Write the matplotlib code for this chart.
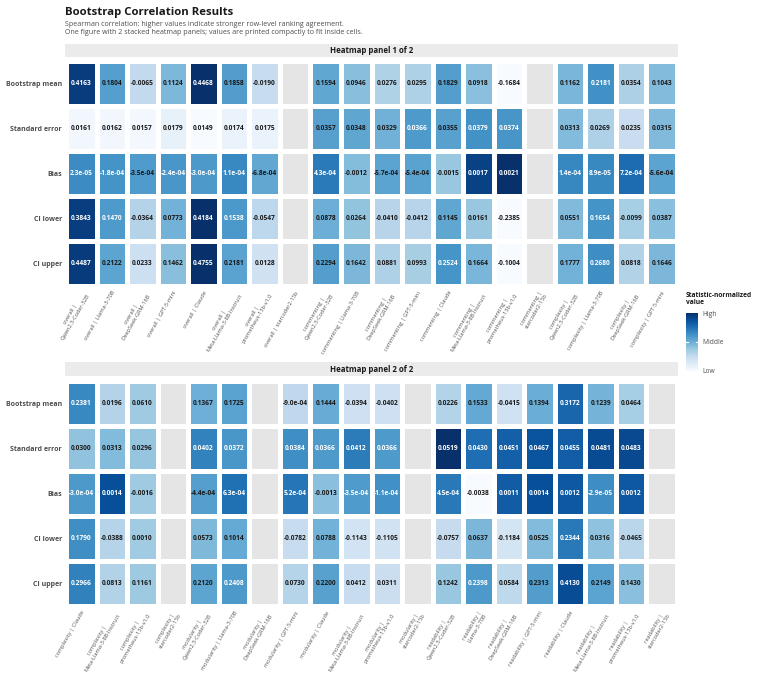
import numpy as np
import matplotlib
matplotlib.use("Agg")
import matplotlib.pyplot as plt
from matplotlib import colors, cm

plt.rcParams['font.family'] = ['Open Sans', 'DejaVu Sans']

nan = np.nan

stats = ["Bootstrap mean", "Standard error", "Bias", "CI lower", "CI upper"]
metrics = ["overall", "commenting", "complexity", "modularity", "readability"]
models = ["Qwen2.5-Coder-32B", "Llama-3-70B", "DeepSeek-GRM-16B", "GPT-5-mini",
          "Claude", "Meta-Llama-3-8B-Instruct", "prometheus-13b-v1.0", "starcoder2-15b"]

# values per statistic, 40 columns (metric x model), panel 1 = first 20
boot_mean = [0.4163, 0.1804, -0.0065, 0.1124, 0.4468, 0.1858, -0.0190, nan,
             0.1594, 0.0946, 0.0276, 0.0295, 0.1829, 0.0918, -0.1684, nan,
             0.1162, 0.2181, 0.0354, 0.1043,
             0.2381, 0.0196, 0.0610, nan,
             0.1367, 0.1725, nan, -9.0e-04, 0.1444, -0.0394, -0.0402, nan,
             0.0226, 0.1533, -0.0415, 0.1394, 0.3172, 0.1239, 0.0464, nan]
std_err = [0.0161, 0.0162, 0.0157, 0.0179, 0.0149, 0.0174, 0.0175, nan,
           0.0357, 0.0348, 0.0329, 0.0366, 0.0355, 0.0379, 0.0374, nan,
           0.0313, 0.0269, 0.0235, 0.0315,
           0.0300, 0.0313, 0.0296, nan,
           0.0402, 0.0372, nan, 0.0384, 0.0366, 0.0412, 0.0366, nan,
           0.0519, 0.0430, 0.0451, 0.0467, 0.0455, 0.0481, 0.0483, nan]
bias = [2.3e-05, -1.8e-04, -3.54e-04, -2.4e-04, -3.0e-04, 1.1e-04, -6.8e-04, nan,
        4.3e-04, -0.0012, -5.7e-04, -5.4e-04, -0.0015, 0.0017, 0.0021, nan,
        1.4e-04, 8.9e-05, 7.2e-04, -5.6e-04,
        -3.0e-04, 0.0014, -0.0016, nan,
        -4.4e-04, 6.3e-04, nan, 5.2e-04, -0.0013, -3.452e-04, -1.1e-04, nan,
        4.5e-04, -0.0038, 0.0011, 0.0014, 0.0012, -2.9e-05, 0.0012, nan]
ci_lower = [0.3843, 0.1470, -0.0364, 0.0773, 0.4184, 0.1538, -0.0547, nan,
            0.0878, 0.0264, -0.0410, -0.0412, 0.1145, 0.0161, -0.2385, nan,
            0.0551, 0.1654, -0.0099, 0.0387,
            0.1790, -0.0388, 0.0010, nan,
            0.0573, 0.1014, nan, -0.0782, 0.0788, -0.1143, -0.1105, nan,
            -0.0757, 0.0637, -0.1184, 0.0525, 0.2344, 0.0316, -0.0465, nan]
ci_upper = [0.4487, 0.2122, 0.0233, 0.1462, 0.4755, 0.2181, 0.0128, nan,
            0.2294, 0.1642, 0.0881, 0.0993, 0.2524, 0.1664, -0.1004, nan,
            0.1777, 0.2680, 0.0818, 0.1646,
            0.2966, 0.0813, 0.1161, nan,
            0.2120, 0.2408, nan, 0.0730, 0.2200, 0.0412, 0.0311, nan,
            0.1242, 0.2398, 0.0584, 0.2313, 0.4130, 0.2149, 0.1430, nan]

data = np.array([boot_mean, std_err, bias, ci_lower, ci_upper])
# normalize each statistic across all columns
mn = np.nanmin(data, axis=1, keepdims=True)
mx = np.nanmax(data, axis=1, keepdims=True)
norm = (data - mn) / (mx - mn)

labels = []
for m in metrics:
    for mod in models:
        s = m + " | " + mod
        if len(s) > 24:
            s = m + " |\n" + mod
        labels.append(s)

def fmt(v):
    if abs(v) < 0.001:
        return "%.1e" % v
    return "%.4f" % v

W, H = 757, 675
fig = plt.figure(figsize=(W / 100, H / 100), dpi=100)

def fx(px):
    return px / W

def fy(py):
    return 1 - py / H

fig.text(fx(65), fy(12), "Bootstrap Correlation Results", fontsize=8.2,
         fontweight='bold', va='center', ha='left', color='#1a1a1a')
fig.text(fx(65), fy(24.5), "Spearman correlation: higher values indicate stronger row-level ranking agreement.",
         fontsize=5.1, va='center', ha='left', color='#4d4d4d')
fig.text(fx(65), fy(32.5), "One figure with 2 stacked heatmap panels; values are printed compactly to fit inside cells.",
         fontsize=5.1, va='center', ha='left', color='#4d4d4d')

cmap = plt.get_cmap('Blues').copy()
cmap.set_bad('#e5e5e5')

panels = [(44, 57, 61, 286), (362, 376, 381, 606)]
for p, (s_top, s_bot, h_top, h_bot) in enumerate(panels):
    cols = slice(p * 20, (p + 1) * 20)
    sub = norm[:, cols]
    raw = data[:, cols]

    sax = fig.add_axes([fx(65), fy(s_bot), fx(678) - fx(65), fy(s_top) - fy(s_bot)])
    sax.set_facecolor('#ebebeb')
    sax.set_xticks([])
    sax.set_yticks([])
    for sp in sax.spines.values():
        sp.set_visible(False)
    sax.text(0.5, 0.5, "Heatmap panel %d of 2" % (p + 1), ha='center', va='center',
             fontsize=5.7, fontweight='bold', color='#1a1a1a', transform=sax.transAxes)

    ax = fig.add_axes([fx(66), fy(h_bot), fx(677) - fx(66), fy(h_top) - fy(h_bot)])
    ax.pcolormesh(np.ma.masked_invalid(sub), cmap=cmap, vmin=0, vmax=1,
                  edgecolors='white', linewidth=2.2)
    ax.set_xlim(0, 20)
    ax.set_ylim(5, 0)
    for sp in ax.spines.values():
        sp.set_visible(False)
    for i in range(5):
        for j in range(20):
            v = raw[i, j]
            if np.isnan(v):
                continue
            c = 'white' if sub[i, j] > 0.5855 else '#1a1a1a'
            ax.text(j + 0.5, i + 0.5, fmt(v), ha='center', va='center',
                    fontsize=4.8, fontweight='bold', color=c)
    ax.set_yticks(np.arange(5) + 0.5)
    ax.set_yticklabels(stats, fontsize=5.0, fontweight='bold', color='#4d4d4d')
    ax.set_xticks(np.arange(20) + 0.5)
    ax.set_xticklabels(labels[cols], rotation=60, ha='right', rotation_mode='anchor',
                       fontsize=4.1, color='#555555', multialignment='center')
    ax.tick_params(length=0, pad=3)

# legend colorbar
cax = fig.add_axes([fx(686), fy(371), fx(698) - fx(686), fy(313) - fy(371)])
cb = fig.colorbar(cm.ScalarMappable(norm=colors.Normalize(0, 1), cmap='Blues'), cax=cax)
cb.outline.set_visible(False)
cb.set_ticks([0, 0.5, 1])
cb.set_ticklabels(["Low", "Middle", "High"])
cax.tick_params(length=0, labelsize=4.8, labelcolor='#4d4d4d', pad=3)
cax.axhline(0.5, xmin=0, xmax=0.2, color='white', lw=0.8)
cax.axhline(0.5, xmin=0.8, xmax=1, color='white', lw=0.8)
fig.text(fx(686), fy(299), "Statistic-normalized\nvalue", fontsize=4.8, fontweight='bold',
         ha='left', va='center', color='#1a1a1a', linespacing=1.0)

fig.savefig("out.png", dpi=100)
